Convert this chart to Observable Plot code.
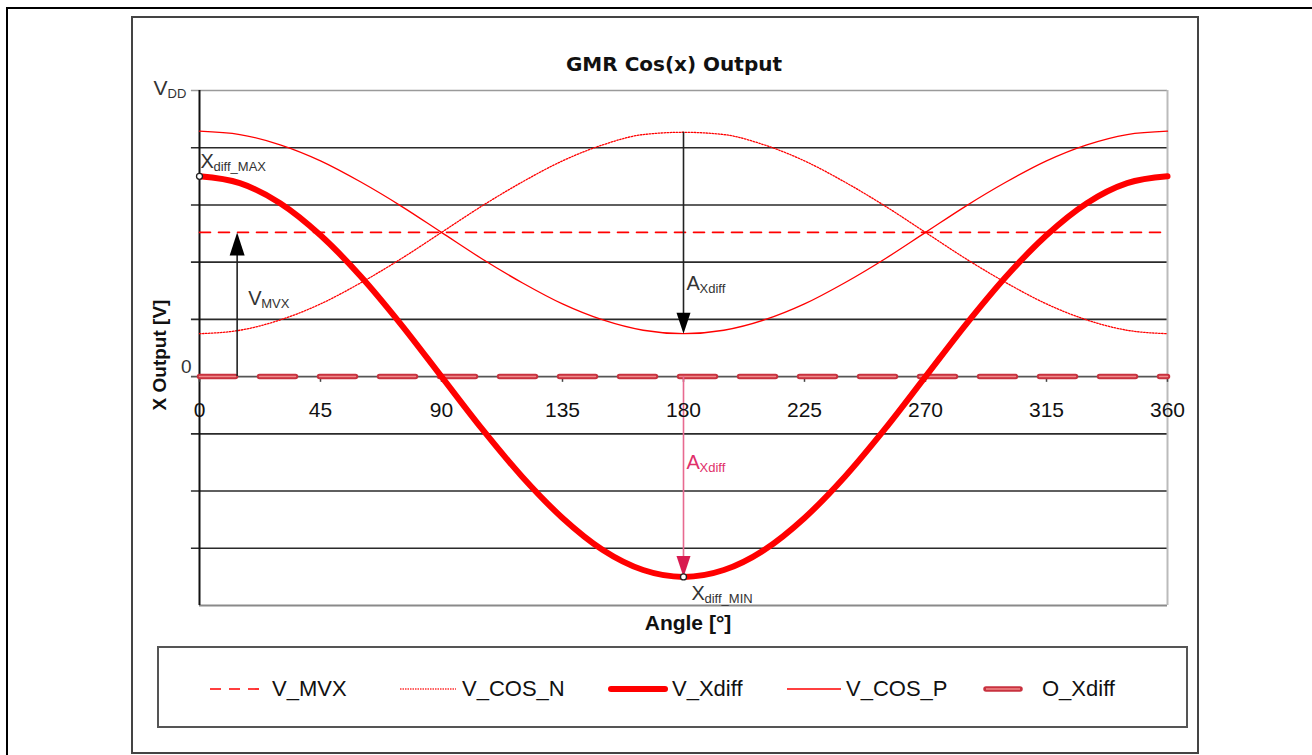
<!DOCTYPE html>
<html><head><meta charset="utf-8">
<script src="https://cdn.jsdelivr.net/npm/d3@7"></script>
<script src="https://cdn.jsdelivr.net/npm/@observablehq/plot@0.6"></script>
<style>
body{margin:0;width:1312px;height:755px;overflow:hidden;background:#fff;font-family:"Liberation Sans",Arial,sans-serif;position:relative}
#outer{position:absolute;left:6px;top:7px;width:1400px;height:800px;border:2px solid #000;box-sizing:border-box}
#inner{position:absolute;left:131px;top:16px;width:1068px;height:738px;border:2px solid #444;box-sizing:border-box}
#chart{position:absolute;left:131px;top:16px}
#title{position:absolute;left:474px;width:400px;top:52px;text-align:center;font:bold 20px "DejaVu Sans",sans-serif;color:#111}
#ylabel{position:absolute;left:160px;top:355px;transform:translate(-50%,-50%) rotate(-90deg);font:bold 19px "Liberation Sans",Arial,sans-serif;white-space:nowrap;color:#111}
#xlabel{position:absolute;left:688px;top:623px;transform:translate(-50%,-50%);font:bold 21px "Liberation Sans",Arial,sans-serif;white-space:nowrap;color:#111}
#legend{position:absolute;left:157px;top:646px;width:1031px;height:82px;border:2px solid #555;box-sizing:border-box}
.lg{position:absolute;top:27px;height:28px}
.lt{position:absolute;top:27px;font-size:22px;line-height:28px;color:#111;white-space:nowrap}
</style></head>
<body>
<div id="outer"></div>
<div id="inner"></div>
<div id="title">GMR Cos(x) Output</div>
<div id="chart"></div>
<div id="ylabel">X Output [V]</div>
<div id="xlabel">Angle [°]</div>
<div id="legend"></div>
<script>
// ---- data ----
const angles   = [0,15,30,45,60,75,90,105,120,135,150,165,180,195,210,225,240,255,270,285,300,315,330,345,360];
const V_COS_P  = [4.29,4.23,4.05,3.77,3.40,2.98,2.52,2.06,1.64,1.27,0.99,0.81,0.75,0.81,0.99,1.27,1.64,2.06,2.52,2.98,3.40,3.77,4.05,4.23,4.29];
const V_COS_N  = [0.75,0.81,0.99,1.27,1.64,2.06,2.52,2.98,3.40,3.77,4.05,4.23,4.27,4.23,4.05,3.77,3.40,2.98,2.52,2.06,1.64,1.27,0.99,0.81,0.75];
const V_Xdiff  = [3.50,3.38,3.03,2.47,1.75,0.91,0.00,-0.91,-1.75,-2.47,-3.03,-3.38,-3.50,-3.38,-3.03,-2.47,-1.75,-0.91,0.00,0.91,1.75,2.47,3.03,3.38,3.50];
const V_MVX    = [2.52,2.52];
const O_Xdiff  = [0,0];
const flatAngles = [0,360];
const xTicks   = [0,45,90,135,180,225,270,315,360];
const gridUnits = [4,3,2,1,-1,-2,-3];
const seriesNames = ["V_MVX","V_COS_N","V_Xdiff","V_COS_P","O_Xdiff"];

const curves = angles.map((a,i)=>({angle:a, cosP:V_COS_P[i], cosN:V_COS_N[i], xdiff:V_Xdiff[i]}));
const flat = flatAngles.map((a,i)=>({angle:a, mvx:V_MVX[i], o:O_Xdiff[i]}));

const arrowUp = {draw(ctx){ctx.moveTo(0,0);ctx.lineTo(7.5,23);ctx.lineTo(-7.5,23);ctx.closePath();}};
const arrowDown = {draw(ctx){ctx.moveTo(0,0);ctx.lineTo(7,-21);ctx.lineTo(-7,-21);ctx.closePath();}};

const RED = "#ff0000";
const ANN_RED = "#e0306a";
const TXT = "#333";

const chart = Plot.plot({
  width: 1067, height: 620,
  marginLeft: 68, marginRight: 31, marginTop: 74, marginBottom: 31,
  x: {domain:[0,360], axis:null},
  y: {domain:[-4,5], axis:null},
  style: {fontFamily:'"Liberation Sans", Arial, sans-serif', background:"transparent"},
  marks: [
    Plot.ruleY(gridUnits, {x1:-3, x2:360, stroke:"#2a2a2a", strokeWidth:1.6}),
    Plot.ruleY([5], {x1:-3, x2:360, stroke:"#9a9a9a", strokeWidth:1.6}),
    Plot.ruleY([-4], {x1:0, x2:360, stroke:"#8a8a8a", strokeWidth:2}),
    Plot.ruleY([0], {x1:-3, x2:360, stroke:"#555", strokeWidth:1.6}),
    Plot.ruleX([360], {y1:-4, y2:5, stroke:"#bbb", strokeWidth:2}),
    Plot.ruleX([0], {y1:-4, y2:5, stroke:"#111", strokeWidth:2}),
    Plot.ruleX(xTicks, {y1:0, y2:-0.1, stroke:"#444", strokeWidth:1.5}),
    // series
    Plot.line(flat, {x:"angle", y:"o", stroke:"#c8323f", strokeWidth:5.5, strokeDasharray:"36,24"}),
    Plot.line(flat, {x:"angle", y:"o", stroke:"#f08a8a", strokeWidth:1.5, strokeDasharray:"36,24"}),
    Plot.line(flat, {x:"angle", y:"mvx", stroke:RED, strokeWidth:1.6, strokeDasharray:"11,8"}),
    Plot.line(curves, {x:"angle", y:"cosN", stroke:RED, strokeWidth:1.3, strokeDasharray:"1.5,1.5", curve:"monotone-x"}),
    Plot.line(curves, {x:"angle", y:"cosP", stroke:RED, strokeWidth:1.3, curve:"monotone-x"}),
    Plot.line(curves, {x:"angle", y:"xdiff", stroke:RED, strokeWidth:6, curve:"monotone-x"}),
    // annotation arrows
    Plot.ruleX([14], {y1:0, y2:2.3, stroke:"#222", strokeWidth:1.6}),
    Plot.dot([0], {x:14, y:2.52, symbol:arrowUp, fill:"#000", stroke:"none", r:5}),
    Plot.ruleX([180], {y1:4.27, y2:0.95, stroke:"#222", strokeWidth:1.6}),
    Plot.dot([0], {x:180, y:0.75, symbol:arrowDown, fill:"#000", stroke:"none", r:5}),
    Plot.ruleX([180], {y1:0, y2:-3.2, stroke:"#e86a90", strokeWidth:1.6}),
    Plot.dot([0], {x:180, y:-3.5, symbol:arrowDown, fill:"#d81b50", stroke:"none", r:5}),
    // extreme markers
    Plot.dot([0], {x:0, y:3.5, r:3, fill:"#fff", stroke:"#222", strokeWidth:1.3}),
    Plot.dot([0], {x:180, y:-3.5, r:3, fill:"#fff", stroke:"#222", strokeWidth:1.3}),
    // tick labels
    Plot.text(xTicks, {x:d=>d, y:0, dy:34, text:d=>String(d), fontSize:21, fill:"#111"}),
    Plot.text(["V"], {x:0, y:5, dx:-46, dy:-2, text:d=>d, textAnchor:"start", fontSize:21, fill:TXT}),
    Plot.text(["DD"], {x:0, y:5, dx:-32, dy:3, text:d=>d, textAnchor:"start", fontSize:13, fill:TXT}),
    Plot.text(["0"], {x:0, y:0, dx:-8, dy:-10, text:d=>d, textAnchor:"end", fontSize:19, fill:TXT}),
    // annotation labels
    Plot.text(["X"], {x:0, y:3.5, dx:1, dy:-15, text:d=>d, textAnchor:"start", fontSize:20, fill:TXT}),
    Plot.text(["diff_MAX"], {x:0, y:3.5, dx:14, dy:-10, text:d=>d, textAnchor:"start", fontSize:13, fill:TXT}),
    Plot.text(["V"], {x:14, y:1.36, dx:11, text:d=>d, textAnchor:"start", fontSize:20, fill:TXT}),
    Plot.text(["MVX"], {x:14, y:1.36, dx:24, dy:5, text:d=>d, textAnchor:"start", fontSize:13, fill:TXT}),
    Plot.text(["A"], {x:180, y:1.625, dx:3, text:d=>d, textAnchor:"start", fontSize:20, fill:TXT}),
    Plot.text(["Xdiff"], {x:180, y:1.625, dx:16, dy:5, text:d=>d, textAnchor:"start", fontSize:13, fill:TXT}),
    Plot.text(["A"], {x:180, y:-1.5, dx:3, text:d=>d, textAnchor:"start", fontSize:20, fill:ANN_RED}),
    Plot.text(["Xdiff"], {x:180, y:-1.5, dx:16, dy:5, text:d=>d, textAnchor:"start", fontSize:13, fill:ANN_RED}),
    Plot.text(["X"], {x:180, y:-3.5, dx:8, dy:17, text:d=>d, textAnchor:"start", fontSize:20, fill:TXT}),
    Plot.text(["diff_MIN"], {x:180, y:-3.5, dx:21, dy:22, text:d=>d, textAnchor:"start", fontSize:13, fill:TXT})
  ]
});
document.getElementById("chart").appendChild(chart);

// legend
const legend = document.getElementById("legend");
const sampleLeft = [49, 239, 449, 626, 823];
const textLeft = [113, 303, 513, 687, 883];
const sampleSvg = [
  `<line x1="2" y1="14" x2="58" y2="14" stroke="#ff0000" stroke-width="1.6" stroke-dasharray="11,8"/>`,
  `<line x1="2" y1="14" x2="58" y2="14" stroke="#ff3030" stroke-width="1.3" stroke-dasharray="1.5,1"/>`,
  `<line x1="3" y1="14" x2="57" y2="14" stroke="#ff0000" stroke-width="6" stroke-linecap="round"/>`,
  `<line x1="2" y1="14" x2="56" y2="14" stroke="#ff0000" stroke-width="1.3"/>`,
  `<line x1="4" y1="14" x2="38" y2="14" stroke="#c8323f" stroke-width="5.5" stroke-linecap="round"/><line x1="4" y1="14" x2="38" y2="14" stroke="#f08a8a" stroke-width="1.5"/>`
];
seriesNames.forEach((name,i)=>{
  const s = document.createElementNS("http://www.w3.org/2000/svg","svg");
  s.setAttribute("width","60"); s.setAttribute("height","28");
  s.setAttribute("class","lg"); s.style.left = sampleLeft[i]+"px";
  s.innerHTML = sampleSvg[i];
  legend.appendChild(s);
  const t = document.createElement("div");
  t.className = "lt"; t.style.left = textLeft[i]+"px"; t.textContent = name;
  legend.appendChild(t);
});
</script>
</body></html>
